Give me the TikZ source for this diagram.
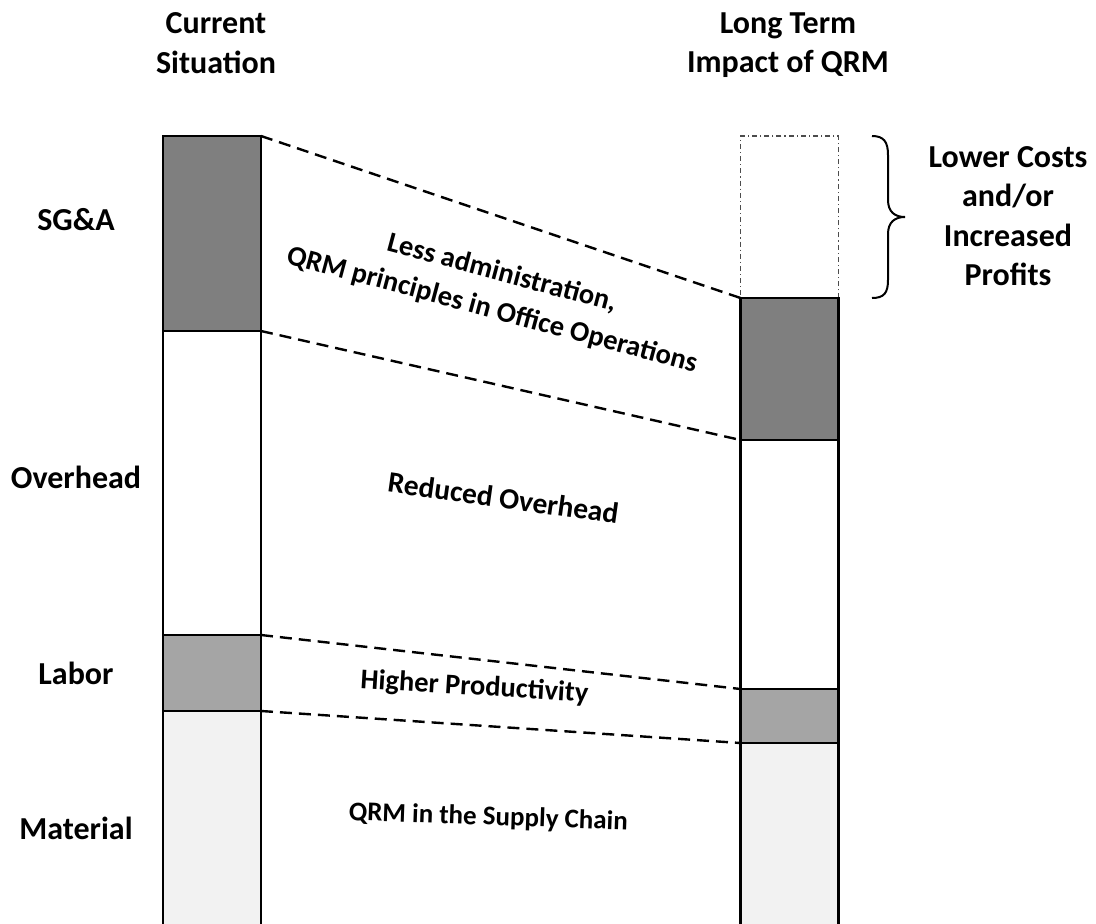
\documentclass[tikz,border=0pt]{standalone}
\usepackage{fontspec}
\setmainfont{Carlito}
\usepackage{xcolor}
\usepackage{tikz}
\usetikzlibrary{positioning}
\definecolor{sgagray}{HTML}{7F7F7F}
\definecolor{laborgray}{HTML}{A5A5A5}
\definecolor{materialgray}{HTML}{F2F2F2}
\tikzstyle{segment} = [rectangle, draw=black, line width=2.6pt, minimum width=98pt, inner sep=0pt, outer sep=0pt]
\tikzstyle{link} = [line width=2.4pt, dash pattern=on 12pt off 7pt]

\begin{document}
\begin{tikzpicture}[x=1pt, y=-1pt, node distance=0pt]
    \tikzstyle{heading} = [align=center, inner sep=0pt, font=\fontsize{32}{39.5}\selectfont\bfseries]
    \tikzstyle{side} = [inner sep=0pt, font=\fontsize{32}{39.5}\selectfont\bfseries]
    \tikzstyle{note} = [align=center, inner sep=0pt, font=\fontsize{28.5}{38}\selectfont\bfseries]

    \useasboundingbox (0,0) rectangle (1096,924);
    \clip (0,0) rectangle (1096,924);

    % Current cost bar
    \node (sgaL) [segment, fill=sgagray, minimum height=195pt, anchor=north west] at (163,136) {};
    \node (overheadL) [segment, fill=white, minimum height=304pt, below=of sgaL] {};
    \node (laborL) [segment, fill=laborgray, minimum height=76pt, below=of overheadL] {};
    \node (materialL) [segment, fill=materialgray, minimum height=230pt, below=of laborL] {};

    % Long term cost bar
    \node (gainR) [segment, draw=black!70, line width=1.2pt, dash pattern=on 5pt off 3pt on 1.2pt off 3pt, minimum height=162pt, anchor=north west] at (740.5,136) {};
    \node (sgaR) [segment, fill=sgagray, minimum height=142pt, below=of gainR] {};
    \node (overheadR) [segment, fill=white, minimum height=249pt, below=of sgaR] {};
    \node (laborR) [segment, fill=laborgray, minimum height=54pt, below=of overheadR] {};
    \node (materialR) [segment, fill=materialgray, minimum height=200pt, below=of laborR] {};

    % Dashed links
    \draw[link] (sgaL.north east) -- (sgaR.north west);
    \draw[link] (sgaL.south east) -- (sgaR.south west);
    \draw[link] (laborL.north east) -- (laborR.north west);
    \draw[link] (laborL.south east) -- (laborR.south west);

    % Brace
    \draw[line width=2pt] (872,136) .. controls (884,136) and (888,142) .. (888,155) -- (888,200)
        .. controls (888,212) and (895,217) .. (905,217)
        .. controls (895,217) and (888,222) .. (888,234) -- (888,280)
        .. controls (888,293) and (884,298) .. (872,298);

    % Labels
    \node (current) [heading] at (216,43) {Current\\Situation};
    \node (longterm) [heading] at (788,45) {Long Term\\Impact of QRM};
    \node (sga) [side] at (76,220) {SG\&A};
    \node (overhead) [side] at (76,477) {Overhead};
    \node (labor) [side] at (76,673) {Labor};
    \node (material) [side] at (76,828) {Material};
    \node (gain) [heading] at (1008,216) {Lower Costs\\and/or\\Increased\\Profits};

    \node (office) [note, rotate=-15] at (497,292) {Less administration,\\QRM principles in Office Operations};
    \node (reduced) [note, font=\fontsize{29.5}{36}\selectfont\bfseries, rotate=-8, anchor=base] at (502,508) {Reduced Overhead};
    \node (productivity) [note, rotate=-3.5, anchor=base] at (474,695) {Higher Productivity};
    \node (supply) [note, font=\fontsize{27}{34}\selectfont\bfseries, rotate=-2, anchor=base] at (488,825) {QRM in the Supply Chain};

\end{tikzpicture}
\end{document}
